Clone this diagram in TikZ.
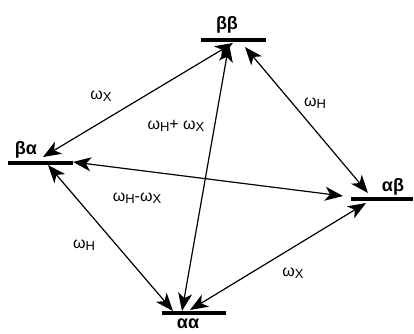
\documentclass[tikz,border=0pt]{standalone}
\usepackage{fontspec}
\setmainfont{Liberation Sans}
\usetikzlibrary{arrows.meta}
\newcommand{\wsub}[1]{ω\raisebox{-2pt}{\fontsize{13}{13}\selectfont #1}}
\begin{document}
\begin{tikzpicture}[x=1pt,y=-1pt,
  level/.style={line width=3.2pt},
  trans/.style={line width=1.2pt,{Stealth[length=18pt,width=14pt,inset=5pt]}-{Stealth[length=18pt,width=14pt,inset=5pt]}},
  lvl/.style={font=\fontsize{18}{18}\selectfont\bfseries,inner sep=0pt},
  freq/.style={font=\fontsize{16}{16}\selectfont,inner sep=0pt}]
\useasboundingbox (0,0) rectangle (414,333);
% levels
\coordinate (bbL) at (201,40); \coordinate (bbR) at (266,40);
\coordinate (baL) at (8,163);  \coordinate (baR) at (73,163);
\coordinate (abL) at (351,199); \coordinate (abR) at (413,199);
\coordinate (aaL) at (162,313); \coordinate (aaR) at (226,313);
\draw[level] (bbL) -- (bbR);
\draw[level] (baL) -- (baR);
\draw[level] (abL) -- (abR);
\draw[level] (aaL) -- (aaR);
\node[lvl] (tbb) at (227,25) {ββ};
\node[lvl] (tba) at (26,150) {βα};
\node[lvl] (tab) at (393,187) {αβ};
\node[lvl] (taa) at (188,324) {αα};
% arrow endpoints
\coordinate (p1a) at (43,157); \coordinate (p1b) at (233,43);
\coordinate (p2a) at (245,47); \coordinate (p2b) at (368,193);
\coordinate (p3a) at (229,44); \coordinate (p3b) at (182,311);
\coordinate (p4a) at (73,162); \coordinate (p4b) at (343,196);
\coordinate (p5a) at (48,165); \coordinate (p5b) at (173,311);
\coordinate (p6a) at (366,203); \coordinate (p6b) at (190,310);
\draw[trans] (p1a) -- (p1b);
\draw[trans] (p2a) -- (p2b);
\draw[trans] (p3a) -- (p3b);
\draw[trans] (p4a) -- (p4b);
\draw[trans] (p5a) -- (p5b);
\draw[trans] (p6a) -- (p6b);
% labels
\node[freq] (f1) at (101,96) {\wsub{X}};
\node[freq] (f2) at (315,103) {\wsub{H}};
\node[freq] (f3) at (176,126) {\wsub{H}+ \wsub{X}};
\node[freq] (f4) at (137,198) {\wsub{H}-\wsub{X}};
\node[freq] (f5) at (84,245) {\wsub{H}};
\node[freq] (f6) at (293,273) {\wsub{X}};
\end{tikzpicture}
\end{document}
